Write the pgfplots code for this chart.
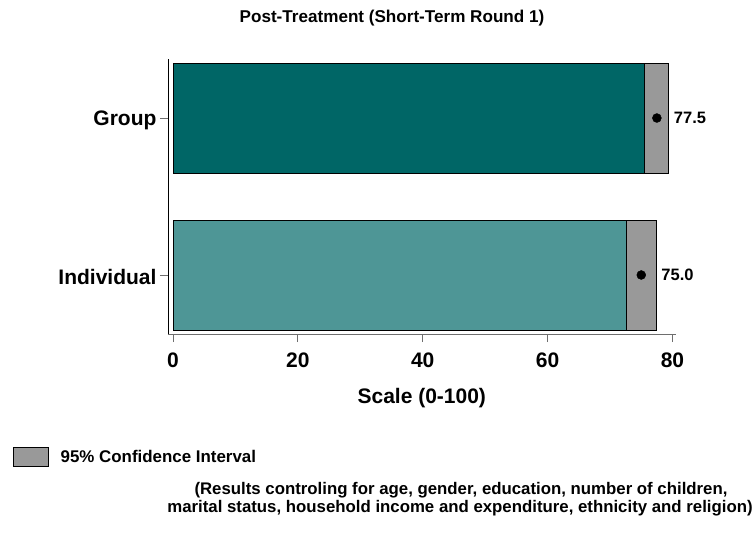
\documentclass[border=0pt]{standalone}
\usepackage{fontspec}
\setmainfont{Liberation Sans}
\usepackage{pgfplots}
\pgfplotsset{compat=1.18}
\definecolor{grpteal}{RGB}{0,102,102}
\definecolor{indteal}{RGB}{78,150,150}
\definecolor{cigray}{RGB}{153,153,153}
\definecolor{axgray}{RGB}{110,110,110}
\begin{document}
\begin{tikzpicture}[x=1pt,y=1pt]
\path[use as bounding box] (0,0) rectangle (753,-535);
\begin{axis}[
  at={(168pt,-334pt)}, anchor=south west,
  scale only axis, width=507.6pt, height=275pt,
  xmin=-0.8, xmax=80.5, ymin=-0.376, ymax=1.376,
  axis x line*=bottom, axis y line*=left,
  x axis line style={axgray, line width=0.8pt},
  y axis line style={black, line width=0.8pt},
  xtick={0,20,40,60,80}, ytick={0,1}, yticklabels={Individual,Group},
  tick align=outside, major tick length=8pt,
  tick style={axgray, line width=0.8pt},
  /pgf/number format/assume math mode=true,
  ticklabel style={font=\fontsize{21}{21}\selectfont\bfseries},
  xticklabel style={yshift=-7pt},
  yticklabel style={yshift=-2pt},
  xlabel={Scale (0-100)},
  xlabel style={font=\fontsize{21}{21}\selectfont\bfseries, yshift=-14pt},
  clip=false,
  legend image code/.code={\draw[#1] (0pt,-9.5pt) rectangle (35pt,9.5pt);
    \path[draw=none, fill=none] (0pt,0pt) -- (45pt,0pt);},
  legend style={at={(axis description cs:-0.305,-0.447)}, anchor=west,
    draw=none, fill=none, inner sep=0pt,
    font=\fontsize{16.9}{16.9}\selectfont\bfseries},
  legend cell align=left,
]
% bars drawn to the point estimate
\addplot[xbar, bar width=0.7, bar shift=0pt, fill=grpteal, draw=black, line width=0.6pt, forget plot]
  coordinates {(77.5,1)};
\addplot[xbar, bar width=0.7, bar shift=0pt, fill=indteal, draw=black, line width=0.6pt, forget plot]
  coordinates {(75.0,0)};
% confidence intervals
\addplot[fill=cigray, draw=black, line width=0.6pt]
  coordinates {(75.5,0.65) (79.4,0.65) (79.4,1.35) (75.5,1.35)} -- cycle;
\addlegendentry{95\% Confidence Interval}
\addplot[fill=cigray, draw=black, line width=0.6pt, forget plot]
  coordinates {(72.6,-0.35) (77.4,-0.35) (77.4,0.35) (72.6,0.35)} -- cycle;
% point estimates
\addplot[only marks, mark=*, mark size=4.5pt, black, forget plot]
  coordinates {(77.5,1) (75.0,0)};
\addplot[draw=none, mark=none, forget plot, nodes near coords, point meta=explicit symbolic,
  nodes near coords style={anchor=west, inner sep=5pt, black,
    font=\fontsize{16.5}{16.5}\selectfont\bfseries}]
  coordinates {(79.4,1) [77.5] (77.4,0) [75.0]};
\end{axis}
\node[font=\fontsize{17.1}{17.1}\selectfont\bfseries] at (392,-18) {Post-Treatment (Short-Term Round 1)};
\node[font=\fontsize{16.8}{16.8}\selectfont\bfseries] at (461,-490) {(Results controling for age, gender, education, number of children,};
\node[font=\fontsize{16.8}{16.8}\selectfont\bfseries] at (460,-508) {marital status, household income and expenditure, ethnicity and religion)};
\end{tikzpicture}
\end{document}
